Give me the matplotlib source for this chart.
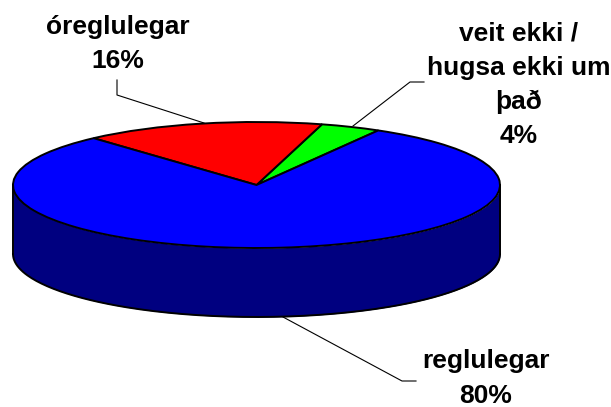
import numpy as np
import matplotlib
matplotlib.use("Agg")
import matplotlib.pyplot as plt

labels = ["veit ekki /\nhugsa ekki um\nþað\n4%", "óreglulegar\n16%", "reglulegar\n80%"]
values = [4, 16, 80]
colors = ["#00ff00", "#ff0000", "#0000ff"]
side_color = "#000080"

W, H = 611, 407
cx, cy = 256.5, 185
rx, ry = 243.5, 63
depth = 69

fig = plt.figure(figsize=(W / 100, H / 100), dpi=100)

# top of the pie: squashed by giving the axes the ellipse box
ax = fig.add_axes([(cx - rx) / W, 1 - (cy + ry) / H, 2 * rx / W, 2 * ry / H])
ax.pie(values, colors=colors, startangle=60, counterclock=True, radius=1,
       wedgeprops=dict(edgecolor="black", linewidth=1.4))
ax.set_aspect("auto")
ax.set_xlim(-1, 1)
ax.set_ylim(-1, 1)
for p in ax.patches:
    p.set_clip_on(False)

# side wall
t = np.linspace(np.pi, 2 * np.pi, 200)
d = depth / ry
ax.fill_between(np.cos(t), np.sin(t), np.sin(t) - d, color=side_color, clip_on=False, zorder=0, lw=0)
ax.plot(np.cos(t), np.sin(t) - d, color="black", lw=1.4, clip_on=False)
ax.plot([-1, -1], [0, -d], color="black", lw=1.4, clip_on=False)
ax.plot([1, 1], [0, -d], color="black", lw=1.4, clip_on=False)

# overlay in pixel coords for labels and leader lines
ov = fig.add_axes([0, 0, 1, 1])
ov.set_xlim(0, W)
ov.set_ylim(H, 0)
ov.axis("off")
ov.patch.set_alpha(0)

font = dict(family="Liberation Sans", fontweight="bold", fontsize=19, ha="center", va="center", linespacing=1.53)
ov.text(519, 85, labels[0], **font)
ov.text(118, 44, labels[1], **font)
ov.text(486, 378.5, labels[2], **font)

ov.plot([117, 117, 204], [80, 95, 123], color="black", lw=0.8)
ov.plot([424, 410, 353], [82, 82, 126], color="black", lw=0.8)
ov.plot([416, 402, 283], [381, 381, 317], color="black", lw=0.8)

fig.savefig("out.png", dpi=100)
